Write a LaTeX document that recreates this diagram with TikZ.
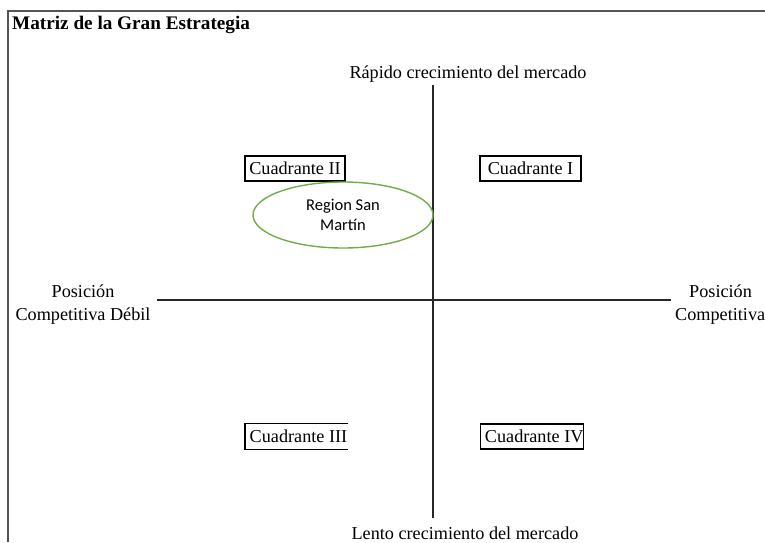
\documentclass[tikz,border=0pt]{standalone}
\usepackage{fontspec}
\setmainfont{Liberation Serif}
\newfontfamily\calib{Carlito}
\usetikzlibrary{shapes.geometric}
\definecolor{ogreen}{RGB}{112,173,71}
\definecolor{frame}{RGB}{85,85,85}
\tikzset{
  lbl/.style={inner sep=0pt, font=\fontsize{18.2}{23}\selectfont, align=center},
  quad/.style={draw=black, line width=1.4pt, inner sep=0pt, minimum height=25pt, font=\fontsize{18.2}{22}\selectfont},
  axis/.style={draw=black!85, line width=1.3pt},
}
\begin{document}
\begin{tikzpicture}[x=1pt,y=-1pt]
\useasboundingbox (0,0) rectangle (765,542);
% frame
\draw[frame, line width=2pt] (8,542) -- (8,11) -- (765,11);
% title
\node[anchor=base west, inner sep=0pt, font=\fontsize{19.2}{22}\bfseries\selectfont] (title) at (12,29) {Matriz de la Gran Estrategia};
% axes
\coordinate (vtop) at (433,85);
\coordinate (vbot) at (433,518);
\coordinate (hl) at (157,300);
\coordinate (hr) at (671,300);
\draw[axis] (vtop) -- (vbot);
\draw[axis] (hl) -- (hr);
% axis labels
\node[lbl, anchor=base] (top) at (468,78) {Rápido crecimiento del mercado};
\node[lbl, anchor=base] (bot) at (465,539) {Lento crecimiento del mercado};
\node[lbl, anchor=base] (left) at (83,320) {Posición\\Competitiva Débil};
\node[lbl, anchor=base west] (right1) at (689,297) {Posición};
\node[lbl, anchor=base west] (right2) at (675,320) {Competitiva};
% quadrants
\node[quad, minimum width=100pt] (q2) at (295,168.5) {Cuadrante II};
\node[quad, minimum width=101pt] (q1) at (530.5,168.5) {Cuadrante I};
\node[quad, draw=none, minimum width=100pt, anchor=west] (q3) at (245,436.5) {\hspace*{4pt}Cuadrante III\hfill};
\draw[line width=1.4pt] (q3.north east) -- (q3.north west) -- (q3.south west) -- (q3.south east);
\node[quad, minimum width=103pt, anchor=west] (q4) at (480,436.5) {\hspace*{4pt}Cuadrante IV\hfill};
% ellipse
\node[ellipse, draw=ogreen, line width=1.4pt, minimum width=180pt, minimum height=66pt, inner sep=0pt, align=center, font=\calib\fontsize{16.5}{20}\selectfont] (sm) at (343,215) {Region San\\Martín};
\end{tikzpicture}
\end{document}
